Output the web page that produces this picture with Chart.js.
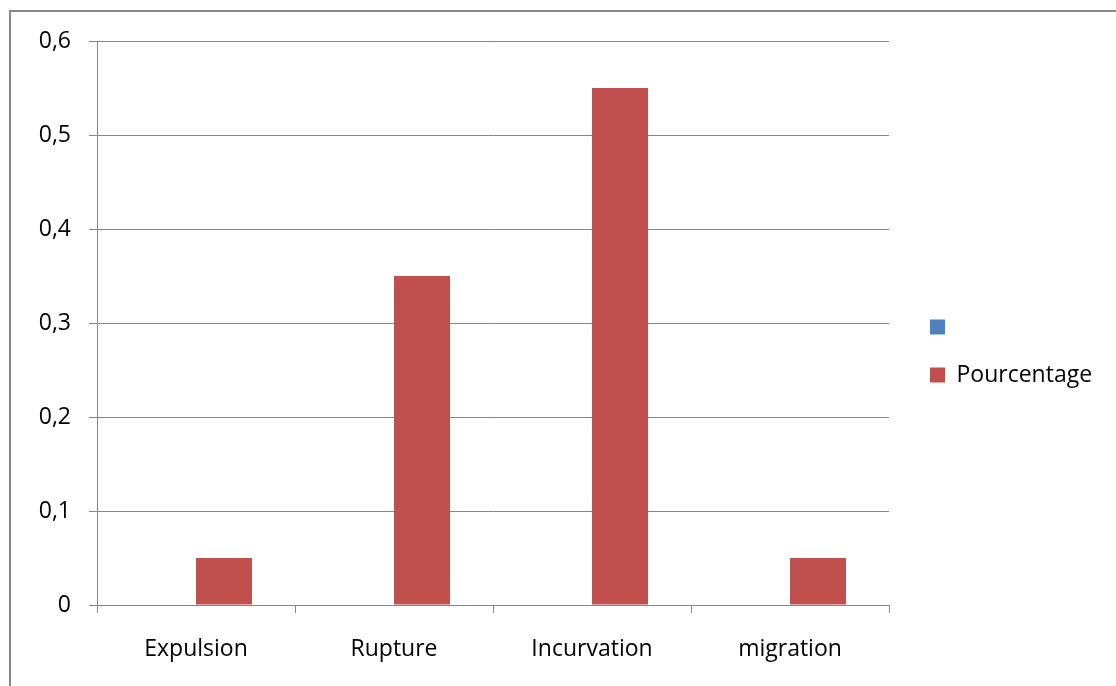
<!DOCTYPE html>
<html>
<head>
<meta charset="utf-8">
<script src="https://cdn.jsdelivr.net/npm/chart.js@4"></script>
<style>
  html, body { margin: 0; padding: 0; background: #ffffff; }
  #wrap { width: 1116px; height: 686px; }
</style>
</head>
<body>
<div id="wrap"><canvas id="c" width="1116" height="686"></canvas></div>
<script>
const categories = ['Expulsion', 'Rupture', 'Incurvation', 'migration'];
const series1Label = '';
const series1Values = [null, null, null, null];
const series2Label = 'Pourcentage';
const series2Values = [0.05, 0.35, 0.55, 0.05];
const yTickLabels = ['0', '0,1', '0,2', '0,3', '0,4', '0,5', '0,6'];

const GRID = '#878787';
Chart.defaults.font.family = "'Open Sans', 'Liberation Sans', sans-serif";
Chart.defaults.font.size = 23;
Chart.defaults.color = '#000000';

const framePlugin = {
  id: 'frame',
  beforeDraw(chart) {
    const ctx = chart.ctx;
    ctx.save();
    ctx.fillStyle = '#ffffff';
    ctx.fillRect(0, 0, chart.width, chart.height);
    ctx.strokeStyle = '#898989';
    ctx.lineWidth = 2;
    ctx.beginPath();
    ctx.moveTo(10, chart.height + 5);
    ctx.lineTo(10, 11);
    ctx.lineTo(chart.width + 5, 11);
    ctx.stroke();
    ctx.restore();
  }
};

const legendPlace = {
  id: 'legendPlace',
  afterLayout(chart) {
    const lg = chart.legend;
    if (!lg) return;
    lg.left = 905;
    lg.top = 290.5;
    lg.right = chart.width;
    lg.bottom = chart.height;
    lg.width = lg.right - lg.left;
    lg.height = lg.bottom - lg.top;
  }
};

new Chart(document.getElementById('c'), {
  type: 'bar',
  data: {
    labels: categories,
    datasets: [
      { label: series1Label, data: series1Values, backgroundColor: '#4F81BD', borderWidth: 0 },
      { label: series2Label, data: series2Values, backgroundColor: '#C0504D', borderWidth: 0 }
    ]
  },
  options: {
    responsive: false,
    animation: false,
    devicePixelRatio: 1,
    categoryPercentage: 0.5657,
    barPercentage: 1,
    layout: { padding: { top: 41, left: 0, right: 0, bottom: 0 } },
    plugins: {
      legend: {
        position: 'chartArea',
        align: 'start',
        labels: {
          boxWidth: 15,
          boxHeight: 15,
          padding: 25,
          textAlign: 'left',
          color: '#000000',
          font: { size: 23 }
        }
      },
      tooltip: { enabled: false }
    },
    scales: {
      x: {
        position: 'bottom',
        grid: { display: true, drawOnChartArea: false, drawTicks: true, tickLength: 8, color: GRID, offset: true },
        border: { display: true, color: GRID, width: 1 },
        ticks: { padding: 23, maxRotation: 0, autoSkip: false, color: '#000000' },
        afterFit(scale) { scale.height = 81; }
      },
      y: {
        position: 'left',
        min: 0,
        max: 0.6,
        ticks: {
          stepSize: 0.1,
          padding: 18,
          color: '#000000',
          callback: (v, i) => yTickLabels[i]
        },
        grid: { color: GRID, tickLength: 8, drawTicks: true },
        border: { display: true, color: GRID, width: 1 },
        afterFit(scale) { scale.width = 97; }
      },
      rightSpace: {
        type: 'linear',
        position: 'right',
        display: true,
        grid: { display: false, drawTicks: false },
        border: { display: false },
        ticks: { display: false },
        afterFit(scale) { scale.width = 227; }
      }
    }
  },
  plugins: [framePlugin, legendPlace]
});
</script>
</body>
</html>
